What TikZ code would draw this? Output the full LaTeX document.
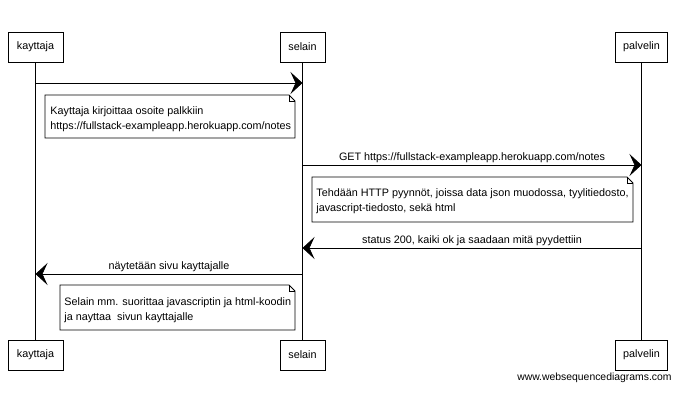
\documentclass[tikz,border=0pt]{standalone}
\usepackage{fontspec}
\setmainfont{Liberation Sans}
\usetikzlibrary{arrows.meta}
\begin{document}
\begin{tikzpicture}[x=1pt,y=-1pt,
  font=\fontsize{10.8}{15}\selectfont,
  line width=0.8pt,
  part/.style={draw, fill=white, minimum height=30pt, inner sep=2pt},
  notetext/.style={anchor=north west, align=left, inner sep=0pt, text depth=0pt},
  msg/.style={-{Stealth[length=12pt,width=22pt,inset=5pt]}},
  lbl/.style={inner sep=1.5pt, anchor=south}]
\useasboundingbox (0,0) rectangle (677,406);
% participants
\node[part, minimum width=55pt] (kt) at (35.5,47) {kayttaja};
\node[part, minimum width=45pt] (se) at (302.5,47) {selain};
\node[part, minimum width=52pt] (pa) at (641.5,47) {palvelin};
\node[part, minimum width=55pt] (kb) at (35.5,355) {kayttaja};
\node[part, minimum width=45pt] (sb) at (302.5,355) {selain};
\node[part, minimum width=52pt] (pb) at (641.5,355) {palvelin};
% lifelines
\draw (kt.south) -- (kb.north);
\draw (se.south) -- (sb.north);
\draw (pa.south) -- (pb.north);
% message end points
\coordinate (k1) at (35.5,83);  \coordinate (s1) at (302.5,83);
\coordinate (s2) at (302.5,165); \coordinate (p2) at (641.5,165);
\coordinate (p3) at (641.5,248); \coordinate (s3) at (302.5,248);
\coordinate (s4) at (302.5,274); \coordinate (k4) at (35.5,274);
% messages
\draw[msg] (k1) -- (s1);
\draw[msg] (s2) -- node[lbl] {GET https://fullstack-exampleapp.herokuapp.com/notes} (p2);
\draw[msg] (p3) -- node[lbl] {status 200, kaiki ok ja saadaan mitä pyydettiin} (s3);
\draw[msg] (s4) -- node[lbl] {näytetään sivu kayttajalle} (k4);
% notes
\draw[fill=white] (45,95) -- (289,95) -- (295,101) -- (295,138) -- (45,138) -- cycle;
\draw (289,95) -- (289,101) -- (295,101);
\node[notetext] (n1) at (50,106) {Kayttaja kirjoittaa osoite palkkiin\\https://fullstack-exampleapp.herokuapp.com/notes};
\draw[fill=white] (312,177) -- (627,177) -- (633,183) -- (633,222) -- (312,222) -- cycle;
\draw (627,177) -- (627,183) -- (633,183);
\node[notetext] (n2) at (316,188) {Tehdään HTTP pyynnöt, joissa data json muodossa, tyylitiedosto,\\javascript-tiedosto, sekä html};
\draw[fill=white] (60,285) -- (289,285) -- (295,291) -- (295,330) -- (60,330) -- cycle;
\draw (289,285) -- (289,291) -- (295,291);
\node[notetext] (n3) at (64,297) {Selain mm. suorittaa javascriptin ja html-koodin\\ja nayttaa\ \ sivun kayttajalle};
% watermark
\node[anchor=east, inner sep=0pt, font=\fontsize{10.4}{12}\selectfont] (wm) at (672,378) {www.websequencediagrams.com};
\end{tikzpicture}
\end{document}
